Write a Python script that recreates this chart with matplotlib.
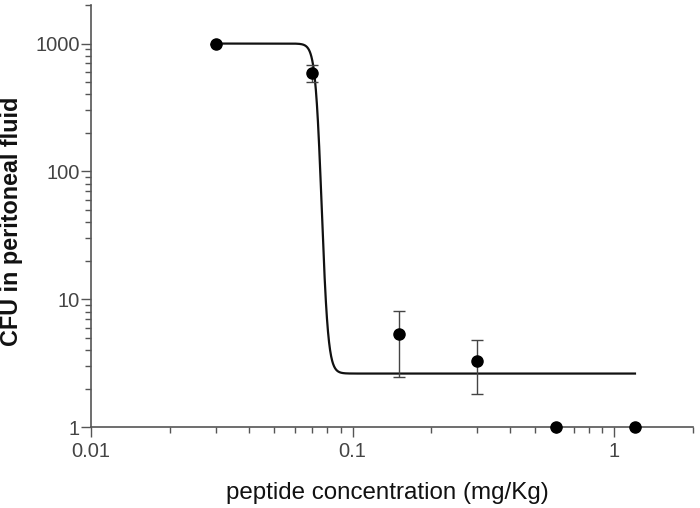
import numpy as np
import matplotlib
matplotlib.use("Agg")
import matplotlib.pyplot as plt
from matplotlib.ticker import LogLocator, FixedLocator, NullFormatter

# Data
dose = [0.03, 0.07, 0.15, 0.3, 0.6, 1.2]
cfu = [1000, 590, 5.3, 3.3, 1.0, 1.0]
cfu_err = [0, 90, 2.85, 1.5, 0, 0]

# Fitted sigmoid (log-space 4-parameter logistic) parameters
fit_top = 1000.0
fit_bottom = 2.62
fit_ec50 = 0.0762
fit_hill = 35.0
fit_range = (0.03, 1.2)

xticks = [0.01, 0.1, 1]
xticklabels = ["0.01", "0.1", "1"]
yticks = [1, 10, 100, 1000]
yticklabels = ["1", "10", "100", "1000"]

plt.rcParams['font.family'] = ['Liberation Sans', 'DejaVu Sans']

fig = plt.figure(figsize=(7.0, 5.08), dpi=100)
ax = fig.add_axes([0.13, 0.1594, 0.86, 0.8306])

xs = np.logspace(np.log10(fit_range[0]), np.log10(fit_range[1]), 2000)
lt, lb = np.log10(fit_top), np.log10(fit_bottom)
ly = lb + (lt - lb) / (1 + 10 ** ((np.log10(xs) - np.log10(fit_ec50)) * fit_hill))
ax.plot(xs, 10 ** ly, color='#111111', lw=1.6, zorder=2)

ax.errorbar(dose, cfu, yerr=cfu_err, fmt='o', color='black', ms=8,
            ecolor='#444444', elinewidth=1.0, capsize=4, capthick=1.0,
            zorder=3, clip_on=False)

ax.set_xscale('log')
ax.set_yscale('log')
ax.set_xlim(0.01, 2)
ax.set_ylim(1, 2000)

ax.xaxis.set_major_locator(FixedLocator(xticks))
ax.set_xticklabels(xticklabels)
ax.yaxis.set_major_locator(FixedLocator(yticks))
ax.set_yticklabels(yticklabels)
ax.xaxis.set_minor_locator(LogLocator(base=10, subs=np.arange(2, 10)))
ax.yaxis.set_minor_locator(LogLocator(base=10, subs=np.arange(2, 10)))
ax.xaxis.set_minor_formatter(NullFormatter())
ax.yaxis.set_minor_formatter(NullFormatter())

for s in ['top', 'right']:
    ax.spines[s].set_visible(False)
for s in ['left', 'bottom']:
    ax.spines[s].set_color('#555555')
    ax.spines[s].set_linewidth(1.2)

ax.tick_params(which='major', direction='out', length=7, width=1.0,
               color='#555555', labelsize=14.5, labelcolor='#444444')
ax.tick_params(axis='y', which='major', pad=1)
ax.tick_params(axis='x', which='major', pad=4)
ax.tick_params(which='minor', direction='out', length=4, width=1.0,
               color='#555555')

fig.text(387 / 700, 1 - 493 / 508, 'peptide concentration (mg/Kg)',
         fontsize=17.4, color='#111111', ha='center', va='center')
fig.text(12 / 700, 1 - 221 / 508, 'CFU in peritoneal fluid', fontsize=16.8,
         fontweight='bold', color='#111111', ha='center', va='center',
         rotation=90)

fig.savefig('out.png', dpi=100)
